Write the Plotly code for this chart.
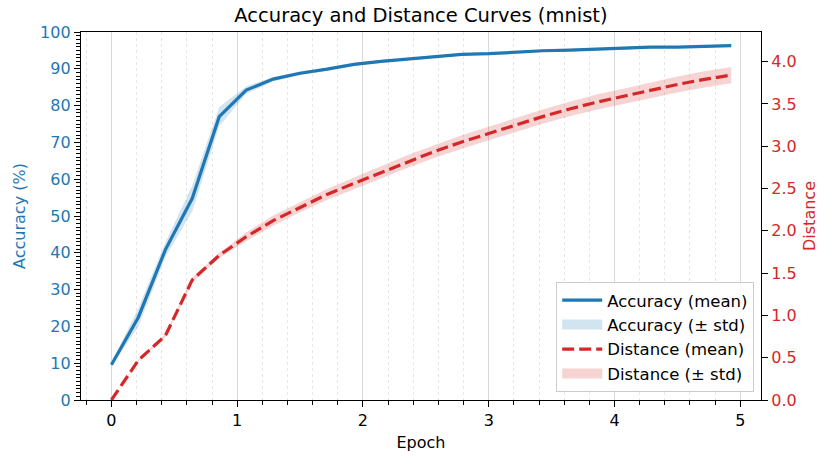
import plotly.graph_objects as go

# ---- data ----
epochs = [i * 3 / 14 for i in range(24)]
acc_mean = [9.6, 22.5, 40.8, 54.8, 77.0, 84.2, 87.2, 88.8, 89.9, 91.2, 92.0, 92.6,
            93.4, 93.9, 94.1, 94.6, 94.9, 95.1, 95.4, 95.5, 95.9, 95.9, 96.2, 96.3]
acc_std = [0.5, 2.5, 2.0, 3.5, 2.6, 1.0, 0.6, 0.5, 0.4, 0.4, 0.4, 0.3,
           0.3, 0.3, 0.3, 0.3, 0.3, 0.3, 0.3, 0.3, 0.3, 0.3, 0.3, 0.3]
dist_mean = [0.0, 0.47, 0.76, 1.42, 1.71, 1.93, 2.12, 2.28, 2.43, 2.56, 2.69, 2.82,
             2.94, 3.05, 3.15, 3.25, 3.35, 3.44, 3.52, 3.59, 3.66, 3.73, 3.79, 3.84]
dist_std = [0.0, 0.01, 0.02, 0.03, 0.03, 0.05, 0.06, 0.06, 0.065, 0.07, 0.07, 0.075,
            0.075, 0.08, 0.08, 0.08, 0.085, 0.085, 0.09, 0.09, 0.09, 0.095, 0.095, 0.095]

BLUE = "#1f77b4"
RED = "#d62728"
BLUE_BAND = "rgba(31,119,180,0.2)"
RED_BAND = "rgba(214,39,40,0.2)"
FONT = "DejaVu Sans"

def band(x, m, s):
    up = [a + b for a, b in zip(m, s)]
    lo = [a - b for a, b in zip(m, s)]
    return list(x) + list(x)[::-1], up + lo[::-1]

fig = go.Figure()

bx, by = band(epochs, acc_mean, acc_std)
fig.add_trace(go.Scatter(x=bx, y=by, fill="toself", fillcolor=BLUE_BAND,
                         line=dict(width=0), mode="lines", showlegend=False,
                         hoverinfo="skip", yaxis="y"))
fig.add_trace(go.Scatter(x=[None], y=[None], mode="lines", name="Accuracy (± std)",
                         line=dict(color=BLUE_BAND, width=12), legendrank=2, yaxis="y"))
fig.add_trace(go.Scatter(x=epochs, y=acc_mean, mode="lines", name="Accuracy (mean)",
                         line=dict(color=BLUE, width=3.2), legendrank=1, yaxis="y"))

dx, dy = band(epochs, dist_mean, dist_std)
fig.add_trace(go.Scatter(x=dx, y=dy, fill="toself", fillcolor=RED_BAND,
                         line=dict(width=0), mode="lines", showlegend=False,
                         hoverinfo="skip", yaxis="y2"))
fig.add_trace(go.Scatter(x=[None], y=[None], mode="lines", name="Distance (± std)",
                         line=dict(color=RED_BAND, width=12), legendrank=4, yaxis="y2"))
fig.add_trace(go.Scatter(x=epochs, y=dist_mean, mode="lines", name="Distance (mean)",
                         line=dict(color=RED, width=3.2, dash="12px,5px"),
                         legendrank=3, yaxis="y2"))

fig.update_layout(
    width=822, height=457,
    margin=dict(l=81, r=61, t=32, b=57, autoexpand=False),
    plot_bgcolor="white", paper_bgcolor="white",
    font=dict(family=FONT, size=16, color="black"),
    title=dict(text="Accuracy and Distance Curves (mnist)", x=0.5, xref="paper",
               y=1 - 15 / 457, yanchor="middle", font=dict(size=19.5, color="black")),
    xaxis=dict(
        range=[-0.242, 5.165], tickmode="array", tickvals=[0, 1, 2, 3, 4, 5],
        ticks="outside", ticklen=6, tickwidth=1.3, tickcolor="black",
        showline=True, linecolor="black", linewidth=1.3, mirror=True,
        showgrid=True, gridcolor="#d9d9d9", gridwidth=1.3, zeroline=False,
        tickfont=dict(size=16), automargin=False,
        title=dict(text="Epoch", font=dict(size=16), standoff=7),
        minor=dict(dtick=0.2, tick0=0, ticks="outside", ticklen=3.5, tickcolor="black",
                   tickwidth=1, showgrid=True, gridcolor="#e6e6e6", griddash="dot", gridwidth=1),
    ),
    yaxis=dict(
        range=[0, 100], tickmode="array", tickvals=list(range(0, 101, 10)),
        ticks="outside", ticklen=6, tickwidth=1.3, tickcolor="black",
        showline=True, linecolor="black", linewidth=1.3,
        showgrid=False, zeroline=False, automargin=False,
        tickfont=dict(size=16, color=BLUE),
        title=dict(text="Accuracy (%)", font=dict(size=16, color=BLUE), standoff=10),
        minor=dict(dtick=1, tick0=0, ticks="outside", ticklen=3.5, tickcolor="black", tickwidth=1),
    ),
    yaxis2=dict(
        range=[0, 4.35], overlaying="y", side="right", anchor="x",
        tickmode="array", tickvals=[0, 0.5, 1, 1.5, 2, 2.5, 3, 3.5, 4],
        ticktext=["0.0", "0.5", "1.0", "1.5", "2.0", "2.5", "3.0", "3.5", "4.0"],
        ticks="outside", ticklen=6, tickwidth=1.3, tickcolor="black",
        showline=True, linecolor="black", linewidth=1.3,
        showgrid=False, zeroline=False, automargin=False,
        tickfont=dict(size=16, color=RED),
        title=dict(text="Distance", font=dict(size=16, color=RED), standoff=7),
    ),
    legend=dict(x=0.99, y=0.022, xanchor="right", yanchor="bottom",
                bgcolor="rgba(255,255,255,0.85)", bordercolor="#cccccc", borderwidth=1,
                font=dict(size=16.5), tracegroupgap=0, itemwidth=40),
    showlegend=True,
)

fig.write_html("out.html")
